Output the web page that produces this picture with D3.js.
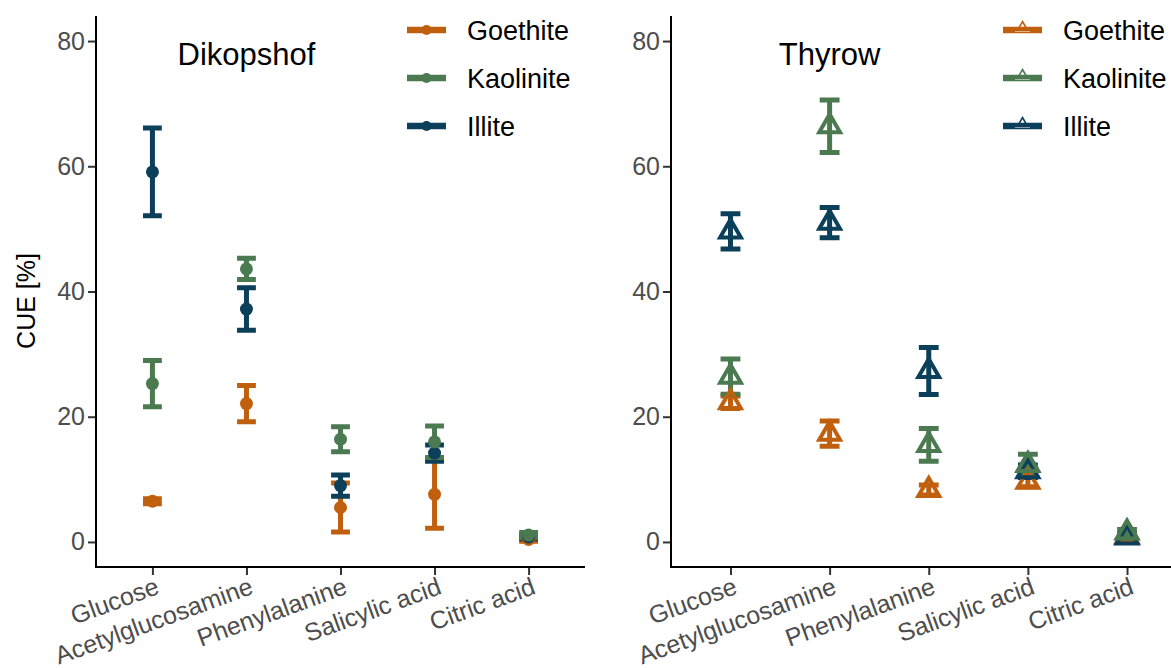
<!DOCTYPE html>
<html>
<head>
<meta charset="utf-8">
<script src="https://cdn.jsdelivr.net/npm/d3@7"></script>
<style>
  html, body { margin: 0; padding: 0; background: #fff; }
  svg { display: block; font-family: "Liberation Sans", Arial, Helvetica, sans-serif; }
</style>
</head>
<body>
<svg id="chart" width="1171" height="668"></svg>
<script>
// Substrates on the x axis
const substrates = ["Glucose", "Acetylglucosamine", "Phenylalanine", "Salicylic acid", "Citric acid"];
// Mineral treatments (legend order)
const minerals = ["Goethite", "Kaolinite", "Illite"];
// Drawing order of the groups (factor levels)
const drawOrder = ["Goethite", "Illite", "Kaolinite"];
const yTicks = [0, 20, 40, 60, 80];

// Dikopshof: mean CUE [%] and error half-widths
const dikGoethite = [6.5, 22.1, 5.5, 7.6, 0.4];
const dikGoethiteErr = [0.4, 2.9, 3.9, 5.4, 0.3];
const dikKaolinite = [25.3, 43.6, 16.4, 16.0, 1.1];
const dikKaoliniteErr = [3.7, 1.7, 2.0, 2.5, 0.4];
const dikIllite = [59.1, 37.2, 9.0, 14.2, 0.8];
const dikIlliteErr = [7.0, 3.4, 1.7, 1.3, 0.3];

// Thyrow: mean CUE [%] and error half-widths
const thyGoethite = [22.3, 17.3, 8.3, 9.6, 0.9];
const thyGoethiteErr = [1.0, 2.0, 0.8, 0.8, 0.4];
const thyKaolinite = [26.4, 66.4, 15.5, 12.3, 1.5];
const thyKaoliniteErr = [2.8, 4.2, 2.6, 1.7, 0.5];
const thyIllite = [49.6, 51.0, 27.3, 11.3, 0.7];
const thyIlliteErr = [2.8, 2.4, 3.75, 1.0, 0.4];

const colors = { Goethite: "#C0600F", Kaolinite: "#4B7A51", Illite: "#0B3F5A" };

const panels = [
  {
    site: "Dikopshof", shape: "circle", x0: 96, x1: 585, legendX: 407,
    series: {
      Goethite: [dikGoethite, dikGoethiteErr],
      Kaolinite: [dikKaolinite, dikKaoliniteErr],
      Illite: [dikIllite, dikIlliteErr]
    }
  },
  {
    site: "Thyrow", shape: "triangle", x0: 671, x1: 1186.5, legendX: 1003,
    series: {
      Goethite: [thyGoethite, thyGoethiteErr],
      Kaolinite: [thyKaolinite, thyKaoliniteErr],
      Illite: [thyIllite, thyIlliteErr]
    }
  }
];

const svg = d3.select("#chart");
const yTop = 16, yBottom = 567;
const y = d3.scaleLinear().domain([-4, 84]).range([yBottom, yTop]);

function triPath(r) {
  const h = r * Math.sqrt(3) / 2;
  return `M0,${-r}L${h},${r / 2}L${-h},${r / 2}Z`;
}

// y-axis title
svg.append("text")
  .attr("transform", "translate(35,301) rotate(-90)")
  .attr("text-anchor", "middle")
  .attr("font-size", 25)
  .attr("fill", "#000")
  .text("CUE [%]");

panels.forEach(p => {
  const x = d3.scalePoint().domain(substrates).range([p.x0, p.x1]).padding(0.6);
  const g = svg.append("g");
  const capW = x.step() * 0.2;

  // axes
  const yAxis = g.append("g")
    .attr("transform", `translate(${p.x0},0)`)
    .call(d3.axisLeft(y).tickValues(yTicks).tickSize(8).tickPadding(3));
  const xAxis = g.append("g")
    .attr("transform", `translate(0,${yBottom})`)
    .call(d3.axisBottom(x).tickSize(8).tickPadding(3));
  [yAxis, xAxis].forEach(a => {
    a.attr("font-family", null);
    a.select(".domain").remove();
    a.selectAll(".tick line").attr("stroke", "#333").attr("stroke-width", 2);
  });
  yAxis.selectAll(".tick text")
    .attr("font-size", 25).attr("fill", "#4D4D4D");
  xAxis.selectAll(".tick text")
    .attr("font-size", 25).attr("fill", "#4D4D4D")
    .attr("text-anchor", "end")
    .attr("y", 0).attr("dy", "0.78em")
    .attr("transform", "translate(1,8) rotate(-20)");

  g.append("line")
    .attr("x1", p.x0).attr("x2", p.x0).attr("y1", yTop).attr("y2", yBottom + 1)
    .attr("stroke", "#000").attr("stroke-width", 2);
  g.append("line")
    .attr("x1", p.x0 - 1).attr("x2", p.x1).attr("y1", yBottom).attr("y2", yBottom)
    .attr("stroke", "#000").attr("stroke-width", 2);

  // site label
  g.append("text")
    .attr("x", x("Acetylglucosamine")).attr("y", y(78))
    .attr("dy", "0.36em")
    .attr("text-anchor", "middle")
    .attr("font-size", 31).attr("fill", "#000")
    .text(p.site);

  // error bars
  drawOrder.forEach(m => {
    const [vals, errs] = p.series[m];
    const rows = substrates.map((s, i) => ({ s, v: vals[i], e: errs[i] }));
    const eg = g.append("g").attr("stroke", colors[m]).attr("stroke-width", 5).attr("fill", "none");
    eg.selectAll("path").data(rows).join("path")
      .attr("d", d => {
        const cx = x(d.s), lo = y(d.v - d.e), hi = y(d.v + d.e);
        return `M${cx - capW / 2},${hi}H${cx + capW / 2}M${cx},${hi}V${lo}M${cx - capW / 2},${lo}H${cx + capW / 2}`;
      });
  });

  // points
  drawOrder.forEach(m => {
    const [vals] = p.series[m];
    const rows = substrates.map((s, i) => ({ s, v: vals[i] }));
    const pg = g.append("g");
    if (p.shape === "circle") {
      pg.selectAll("circle").data(rows).join("circle")
        .attr("cx", d => x(d.s)).attr("cy", d => y(d.v)).attr("r", 6.5)
        .attr("fill", colors[m]);
    } else {
      pg.selectAll("path").data(rows).join("path")
        .attr("transform", d => `translate(${x(d.s)},${y(d.v)})`)
        .attr("d", triPath(12))
        .attr("fill", "none").attr("stroke", colors[m]).attr("stroke-width", 4)
        .attr("stroke-linejoin", "miter");
    }
  });

  // legend
  const lg = g.append("g");
  minerals.forEach((m, i) => {
    const ly = 30 + i * 48;
    const k = lg.append("g").attr("transform", `translate(${p.legendX},${ly})`);
    if (p.shape === "triangle") {
      k.append("path").attr("d", triPath(6.5)).attr("transform", "translate(19.5,-2)")
        .attr("fill", "#fff")
        .attr("stroke", colors[m]).attr("stroke-width", 1.6);
    }
    k.append("line").attr("x1", 0).attr("x2", 39).attr("y1", 0).attr("y2", 0)
      .attr("stroke", colors[m]).attr("stroke-width", 6.5);
    if (p.shape === "circle") {
      k.append("circle").attr("cx", 19.5).attr("cy", 0).attr("r", 5).attr("fill", colors[m]);
    } else {
      k.append("line").attr("x1", 12).attr("x2", 27).attr("y1", 1.5).attr("y2", 1.5)
        .attr("stroke", "#ffffff").attr("stroke-opacity", 0.5).attr("stroke-width", 1);
    }
    lg.append("text")
      .attr("x", p.legendX + 60).attr("y", ly).attr("dy", "0.36em")
      .attr("font-size", 27).attr("fill", "#000")
      .text(m);
  });
});
</script>
</body>
</html>
